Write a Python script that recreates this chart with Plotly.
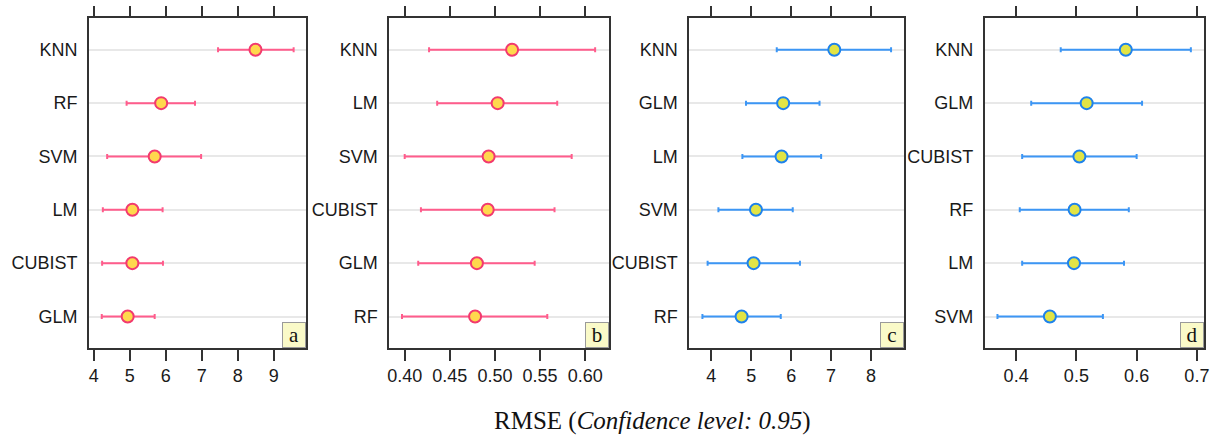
import plotly.graph_objects as go

# ---------------- data ----------------
# order: bottom -> top
models_a = ["GLM", "CUBIST", "LM", "SVM", "RF", "KNN"]
mean_a = [4.94, 5.07, 5.07, 5.69, 5.87, 8.49]
low_a = [4.22, 4.23, 4.25, 4.37, 4.91, 7.45]
high_a = [5.69, 5.92, 5.91, 6.98, 6.81, 9.55]

models_b = ["RF", "GLM", "CUBIST", "SVM", "LM", "KNN"]
mean_b = [0.478, 0.480, 0.492, 0.493, 0.503, 0.519]
low_b = [0.397, 0.415, 0.418, 0.400, 0.436, 0.427]
high_b = [0.558, 0.544, 0.566, 0.585, 0.569, 0.611]

models_c = ["RF", "CUBIST", "SVM", "LM", "GLM", "KNN"]
mean_c = [4.76, 5.06, 5.12, 5.76, 5.80, 7.08]
low_c = [3.78, 3.91, 4.18, 4.78, 4.87, 5.64]
high_c = [5.74, 6.22, 6.04, 6.75, 6.71, 8.50]

models_d = ["SVM", "LM", "RF", "CUBIST", "GLM", "KNN"]
mean_d = [0.456, 0.496, 0.497, 0.505, 0.517, 0.582]
low_d = [0.369, 0.410, 0.406, 0.410, 0.425, 0.474]
high_d = [0.544, 0.579, 0.587, 0.600, 0.609, 0.690]

panel_labels = ["a", "b", "c", "d"]
x_ranges = [[3.86, 9.90], [0.3827, 0.6258], [3.445, 8.836], [0.3477, 0.7124]]
x_ticks = [[4, 5, 6, 7, 8, 9],
           [0.40, 0.45, 0.50, 0.55, 0.60],
           [4, 5, 6, 7, 8],
           [0.4, 0.5, 0.6, 0.7]]
x_ticktext = [["4", "5", "6", "7", "8", "9"],
              ["0.40", "0.45", "0.50", "0.55", "0.60"],
              ["4", "5", "6", "7", "8"],
              ["0.4", "0.5", "0.6", "0.7"]]
title_text = "RMSE (<i>Confidence level: 0.95</i>)"

# ---------------- styling ----------------
W, H = 1220, 437
boxes_px = [(87.3, 306.0), (389.3, 610.0), (691.0, 907.7), (988.3, 1209.3)]
top_px, bottom_px = 18.3, 348.0

pink_line = "#FF5C8C"
pink_edge = "#F23A6E"
blue_line = "#3C96F5"
blue_edge = "#1E82EB"
yellow_fill = "#FFD84D"
yellowgreen_fill = "#E2E445"

series = [
    (models_a, mean_a, low_a, high_a, pink_line, pink_edge, yellow_fill),
    (models_b, mean_b, low_b, high_b, pink_line, pink_edge, yellow_fill),
    (models_c, mean_c, low_c, high_c, blue_line, blue_edge, yellowgreen_fill),
    (models_d, mean_d, low_d, high_d, blue_line, blue_edge, yellowgreen_fill),
]

fig = go.Figure()
layout = dict(
    width=W, height=H,
    margin=dict(l=0, r=0, t=0, b=0),
    paper_bgcolor="white", plot_bgcolor="white",
    showlegend=False,
    font=dict(family="Liberation Sans, Arial, sans-serif", size=18, color="#1a1a1a"),
)

annotations = []
for i, (models, mean, low, high, lc, ec, fc) in enumerate(series):
    k = "" if i == 0 else str(i + 1)
    xa, ya = "x" + k, "y" + k
    plus = [h - m for h, m in zip(high, mean)]
    minus = [m - l for m, l in zip(mean, low)]
    fig.add_trace(go.Scatter(
        x=mean, y=models, mode="markers", xaxis=xa, yaxis=ya,
        marker=dict(size=12, color=fc, line=dict(color=ec, width=2)),
        error_x=dict(type="data", symmetric=False, array=plus, arrayminus=minus,
                     color=lc, thickness=2, width=2.5),
        hoverinfo="x+y",
    ))
    x0, x1 = boxes_px[i]
    layout["xaxis" + k] = dict(
        domain=[x0 / W, x1 / W], anchor=ya, range=x_ranges[i],
        tickmode="array", tickvals=x_ticks[i], ticktext=x_ticktext[i],
        ticks="outside", ticklen=11, tickwidth=1.5, tickcolor="#333",
        showline=True, linecolor="#333", linewidth=1.5, mirror="ticks",
        showgrid=False, zeroline=False,
        tickfont=dict(size=18, color="#1a1a1a"),
    )
    layout["yaxis" + k] = dict(
        domain=[1 - bottom_px / H, 1 - top_px / H], anchor=xa,
        type="category", categoryorder="array", categoryarray=models,
        range=[-0.59, 5.59],
        showline=True, linecolor="#333", linewidth=1.5, mirror=True,
        ticks="", showgrid=True, gridcolor="#E8E8E8", gridwidth=2,
        zeroline=False, ticklabelstandoff=6,
        tickfont=dict(size=18, color="#1a1a1a"),
    )
    annotations.append(dict(
        text=panel_labels[i], xref=xa + " domain", yref=ya + " domain",
        x=1, y=0, xanchor="right", yanchor="bottom", showarrow=False,
        font=dict(family="Liberation Serif, Times New Roman, serif", size=21, color="#111"),
        bgcolor="#FAFAC8", bordercolor="#9a9a9a", borderwidth=1, borderpad=1,
        width=20, height=22,
    ))

annotations.append(dict(
    text=title_text, xref="paper", yref="paper",
    x=654 / W, y=1 - 421 / H, xanchor="center", yanchor="middle", showarrow=False,
    font=dict(family="Liberation Serif, Times New Roman, serif", size=25, color="#111"),
))
layout["annotations"] = annotations
fig.update_layout(**layout)
fig.write_html("out.html", config={"displayModeBar": False},
               post_script="document.body.style.margin='0';")
